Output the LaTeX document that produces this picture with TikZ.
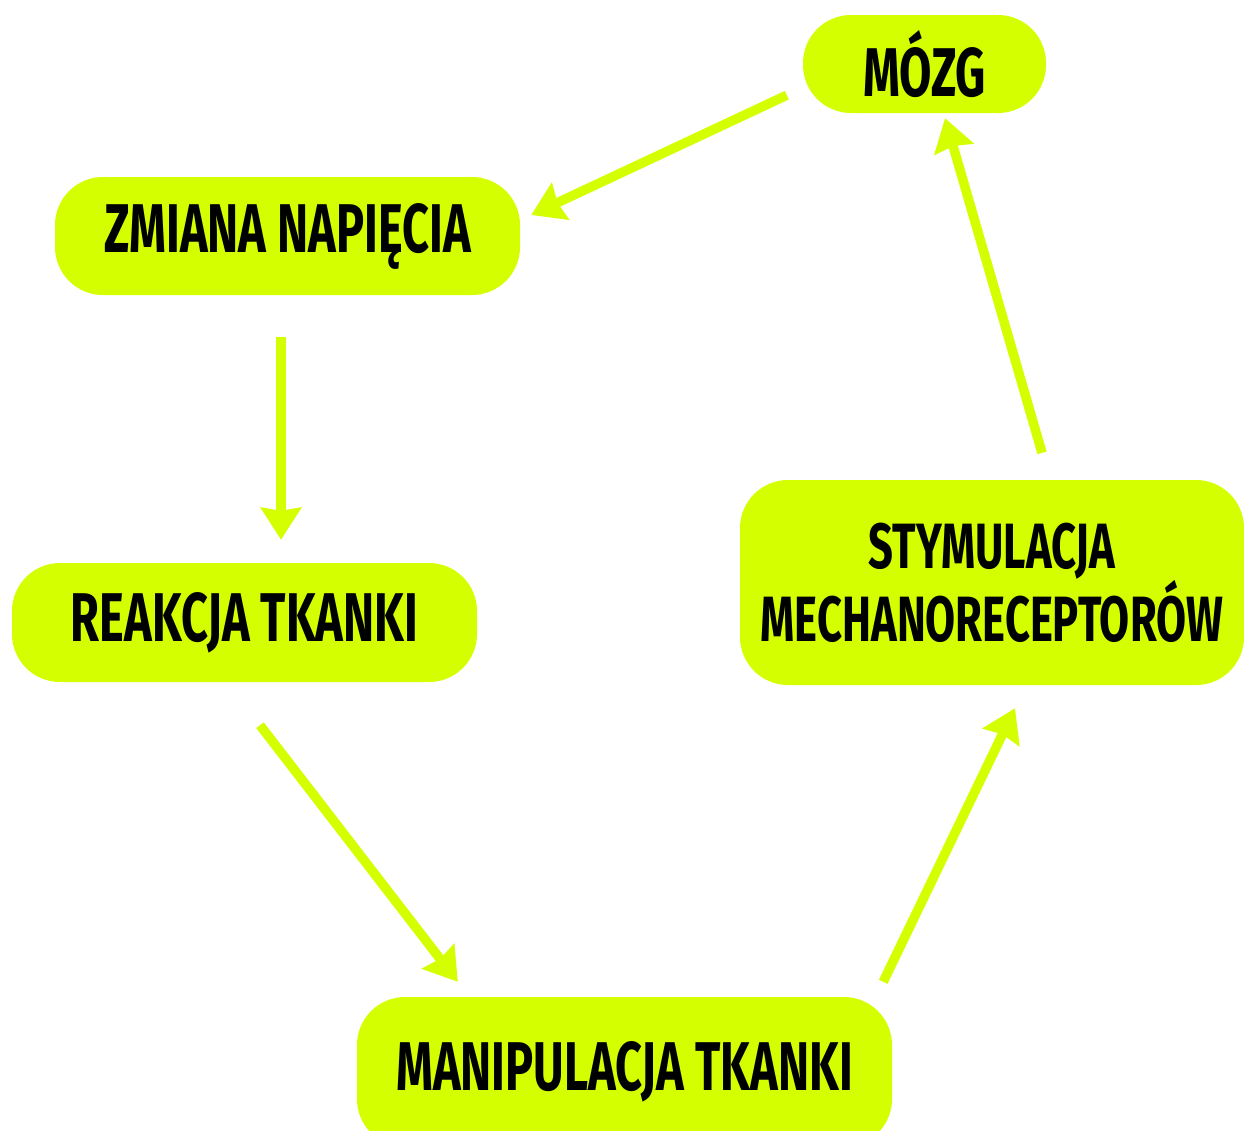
\documentclass[tikz,border=0pt]{standalone}
\usepackage{fontspec}
\setmainfont{Fira Sans}[FakeStretch=0.68]
\usetikzlibrary{arrows.meta,calc}
\definecolor{boxlime}{HTML}{D4FF00}
\begin{document}
\begin{tikzpicture}[x=1pt,y=-1pt,
  box/.style={fill=boxlime, rounded corners=48pt, inner sep=0pt, align=center,
    font=\fontsize{69}{71}\selectfont\bfseries},
  arr/.style={draw=boxlime, fill=boxlime, line width=9.5pt, -{Stealth[length=32pt,width=40pt,inset=3pt]}}]
\useasboundingbox (0,0) rectangle (1244,1130);
\node[box, minimum width=243pt, minimum height=98pt] (mozg) at (924.5,64){MÓZG};
\node[box, minimum width=465pt, minimum height=118pt] (zmiana) at (287.5,236){ZMIANA NAPIĘCIA};
\node[box, minimum width=465pt, minimum height=119pt] (reakcja) at (244.5,622.5){REAKCJA TKANKI};
\node[box, minimum width=535pt, minimum height=150pt] (manip) at (624.5,1072){MANIPULACJA TKANKI};
\node[box, minimum width=504pt, minimum height=205pt, font=\fontsize{64}{70}\selectfont\bfseries] (stym) at (992,582.5){STYMULACJA\\MECHANORECEPTORÓW};
\draw[arr] ($(mozg.south west)+(-16,-18)$) -- ($(zmiana.east)+(11,-21)$);
\draw[arr] ($(zmiana.south)+(-6.5,42)$) -- ($(reakcja.north)+(36.5,-23)$);
\draw[arr] ($(reakcja.south)+(15.5,43)$) -- ($(manip.north west)+(101,-15)$);
\draw[arr] ($(manip.north east)+(-9,-15)$) -- ($(stym.south)+(23,23)$);
\draw[arr] ($(stym.north)+(50,-27)$) -- ($(mozg.south)+(20.5,5)$);

\end{tikzpicture}
\end{document}
